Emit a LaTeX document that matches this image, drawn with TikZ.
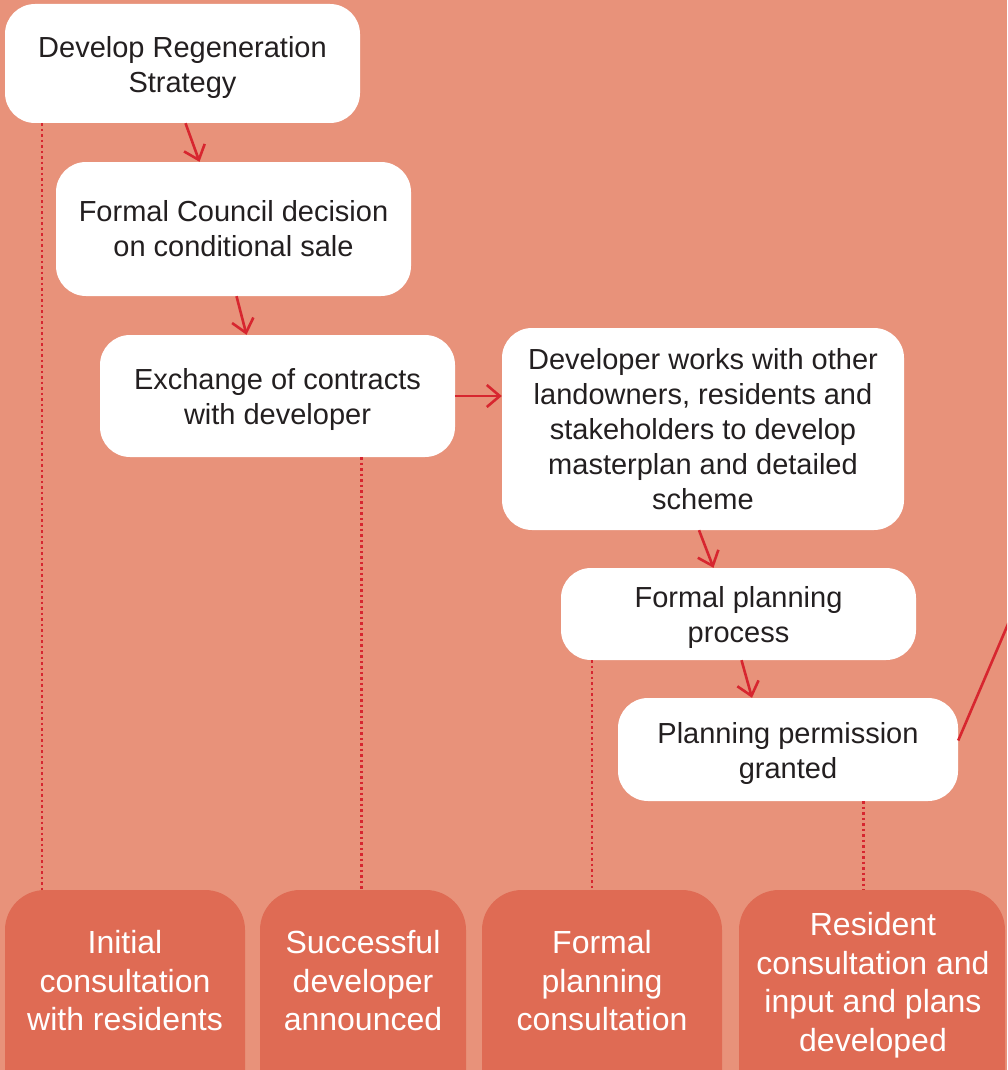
\documentclass[tikz,border=0pt]{standalone}
\usepackage{fontspec}
\setmainfont{Liberation Sans}
\usetikzlibrary{arrows.meta,positioning}

\definecolor{backdrop}{HTML}{E8927A}
\definecolor{tilefill}{HTML}{DF6B54}
\definecolor{linkred}{HTML}{D7262F}
\definecolor{inkgrey}{HTML}{231F20}

\tikzset{
  stepbox/.style={fill=white, rounded corners=30pt, align=center, text=inkgrey,
    font=\fontsize{29}{35}\selectfont, inner sep=0pt},
  sunk/.style={execute at begin node={\rule{0pt}{#1}}},
  outcome/.style={align=center, text=white, font=\fontsize{32}{38.5}\selectfont,
    inner sep=0pt, minimum height=182pt},
  tile/.style={fill=tilefill, rounded corners=40pt},
  flow/.style={draw=linkred, line width=2.6pt, -{Straight Barb[length=13pt,width=22pt]}},
  link/.style={draw=linkred, line width=2.6pt},
  dotline/.style={draw=linkred, line width=2.6pt, dash pattern=on 2.4pt off 3.1pt}
}

\begin{document}
\begin{tikzpicture}[x=1pt,y=-1pt]

    % page
    \clip (0,0) rectangle (1007,1070);
    \fill[backdrop] (0,0) rectangle (1007,1070);

    % steps
    \node[stepbox, sunk=64pt, minimum width=355pt, minimum height=119pt] (strategy) at (182.5,63.5)
        {Develop Regeneration\\Strategy};
    \node[stepbox, minimum width=355pt, minimum height=134pt] (council) at (233.5,229)
        {Formal Council decision\\on conditional sale};
    \node[stepbox, sunk=64pt, minimum width=355pt, minimum height=122pt] (contracts) at (277.5,396)
        {Exchange of contracts\\with developer};
    \node[stepbox, minimum width=402pt, minimum height=202pt] (developer) at (703,429)
        {Developer works with other\\landowners, residents and\\stakeholders to develop\\masterplan and detailed\\scheme};
    \node[stepbox, sunk=64pt, minimum width=355pt, minimum height=92pt] (planning) at (738.5,614)
        {Formal planning\\process};
    \node[stepbox, sunk=64pt, minimum width=340pt, minimum height=103pt] (permission) at (788,749.5)
        {Planning permission\\granted};

    % outcome tiles (run off the bottom edge)
    \foreach \xa/\xb in {5/245,260/466,482/722,739/1005}
        \fill[tile] (\xa,890) rectangle (\xb,1140);

    \node[outcome] (initial) at (125,981) {Initial\\consultation\\with residents};
    \node[outcome] (announced) at (363,981) {Successful\\developer\\announced};
    \node[outcome] (formal) at (602,981) {Formal\\planning\\consultation};
    \node[outcome, minimum height=190pt] (resident) at (873,985) {Resident\\consultation and\\input and plans\\developed};

    % arrows
    \draw[flow] ([xshift=3pt]strategy.south) -- ([xshift=-34pt]council.north);
    \draw[flow] ([xshift=3pt]council.south) -- ([xshift=-31pt]contracts.north);
    \draw[flow] (contracts.east) -- (contracts.east -| developer.west);
    \draw[flow] ([xshift=-4pt]developer.south) -- ([xshift=-25pt]planning.north);
    \draw[flow] ([xshift=3pt]planning.south) -- ([xshift=-36pt]permission.north);
    \coordinate (offpage) at (1020,596);
    \draw[link] ([yshift=9pt]permission.east) -- (offpage);

    % dotted drops
    \draw[dotline] ([xshift=37pt]strategy.south west) coordinate (d1) -- (d1 |- initial.north);
    \draw[dotline] ([xshift=-94pt]contracts.south east) coordinate (d2) -- (d2 |- announced.north);
    \draw[dotline] ([xshift=31pt]planning.south west) coordinate (d3) -- (d3 |- formal.north);
    \draw[dotline] ([xshift=-95pt]permission.south east) coordinate (d4) -- (d4 |- resident.north);

\end{tikzpicture}
\end{document}
